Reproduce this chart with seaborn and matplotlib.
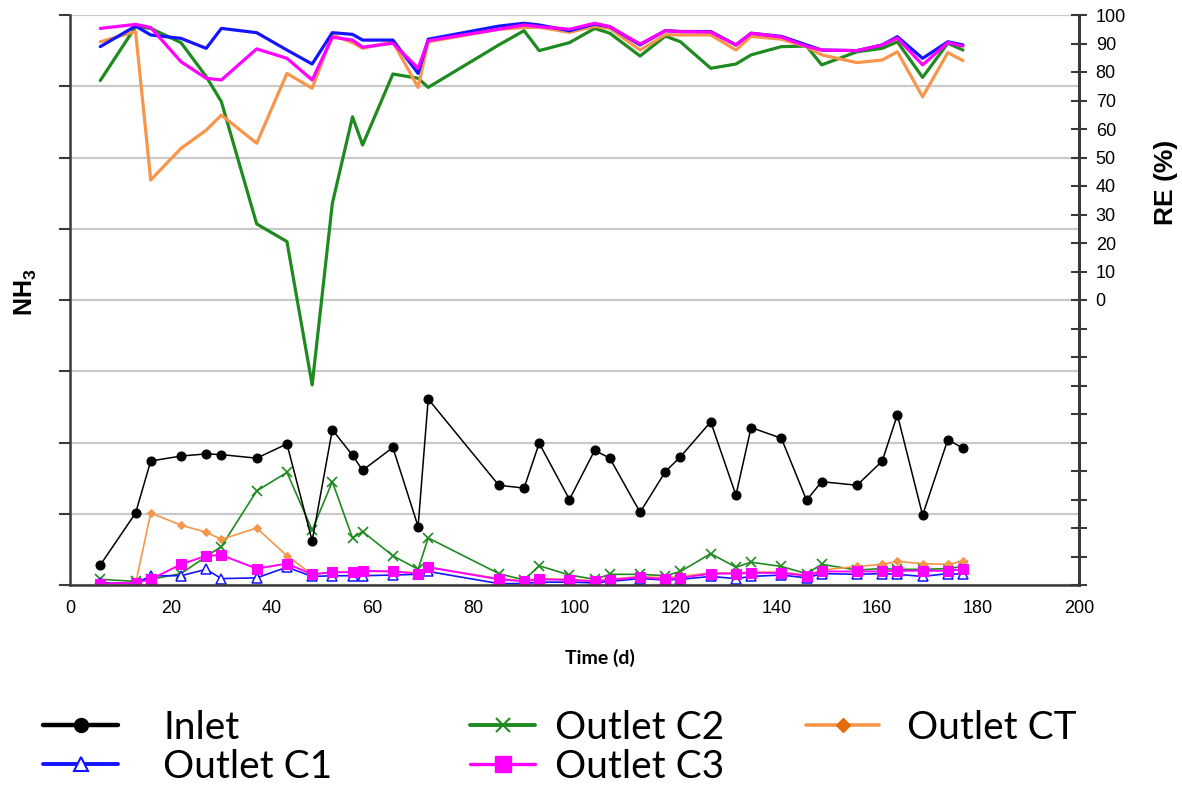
import matplotlib
matplotlib.use("Agg")
import matplotlib.pyplot as plt
from matplotlib.lines import Line2D
from matplotlib.ticker import FuncFormatter
import seaborn as sns
import pandas as pd

# ---------------- data ----------------
days = [6, 13, 16, 22, 27, 30, 37, 43, 48, 52, 56, 58, 64, 69, 71, 85, 90, 93,
        99, 104, 107, 113, 118, 121, 127, 132, 135, 141, 146, 149, 156, 161,
        164, 169, 174, 177]

# NH3 concentrations (left axis, unlabeled scale)
inlet = [0.28, 1.01, 1.74, 1.81, 1.84, 1.83, 1.78, 1.98, 0.62, 2.18, 1.82, 1.61,
         1.93, 0.82, 2.61, 1.40, 1.36, 1.99, 1.20, 1.89, 1.78, 1.02, 1.59, 1.80,
         2.29, 1.26, 2.21, 2.06, 1.19, 1.45, 1.40, 1.74, 2.39, 0.98, 2.04, 1.92]
outlet_c1 = [0.03, 0.02, 0.13, 0.13, 0.22, 0.09, 0.10, 0.25, 0.12, 0.13, 0.13, 0.13,
             0.14, 0.15, 0.19, 0.02, 0.02, 0.04, 0.04, 0.03, 0.05, 0.09, 0.07, 0.08,
             0.12, 0.09, 0.12, 0.14, 0.10, 0.16, 0.15, 0.16, 0.15, 0.12, 0.16, 0.15]
outlet_c2 = [0.08, 0.05, 0.08, 0.16, 0.40, 0.54, 1.32, 1.58, 0.77, 1.45, 0.66, 0.75,
             0.41, 0.22, 0.66, 0.16, 0.07, 0.27, 0.14, 0.08, 0.15, 0.15, 0.13, 0.19,
             0.44, 0.25, 0.32, 0.26, 0.16, 0.29, 0.21, 0.23, 0.22, 0.22, 0.23, 0.26]
outlet_c3 = [0.02, 0.03, 0.08, 0.29, 0.41, 0.42, 0.23, 0.30, 0.15, 0.18, 0.18, 0.20,
             0.19, 0.16, 0.25, 0.08, 0.05, 0.08, 0.07, 0.05, 0.07, 0.11, 0.08, 0.10,
             0.16, 0.16, 0.17, 0.17, 0.13, 0.19, 0.19, 0.19, 0.20, 0.20, 0.20, 0.22]
outlet_ct = [0.02, 0.02, 1.01, 0.84, 0.74, 0.64, 0.80, 0.41, 0.15, 0.18, 0.18, 0.19,
             0.19, 0.17, 0.25, 0.09, 0.06, 0.09, 0.08, 0.06, 0.08, 0.12, 0.10, 0.12,
             0.17, 0.17, 0.18, 0.18, 0.14, 0.21, 0.26, 0.29, 0.33, 0.30, 0.29, 0.33]

# Removal efficiencies RE (%) (right axis)
re_c1 = [88.9, 96.1, 93.0, 91.8, 88.3, 95.3, 93.8, 87.7, 82.8, 93.8, 93.2, 91.2,
         91.2, 79.5, 91.5, 96.1, 97.1, 96.5, 94.5, 96.8, 95.9, 89.5, 94.5, 94.2,
         94.2, 89.5, 93.6, 92.5, 89.5, 87.7, 87.5, 89.5, 92.4, 84.8, 90.6, 89.5]
re_c2 = [77.0, 95.9, 95.3, 90.3, 78.4, 69.6, 26.7, 20.5, -29.8, 33.9, 64.3, 54.4,
         79.3, 77.8, 74.6, 89.5, 94.5, 87.5, 90.3, 95.3, 93.6, 85.6, 92.6, 90.6,
         81.3, 82.8, 86.0, 88.9, 89.1, 82.5, 87.1, 88.3, 90.6, 78.1, 90.1, 87.7]
re_c3 = [95.3, 96.7, 95.6, 83.6, 77.8, 77.2, 88.1, 84.8, 77.2, 92.2, 91.2, 88.7,
         90.1, 81.3, 91.0, 95.0, 96.5, 95.9, 95.0, 97.1, 95.9, 89.8, 94.5, 94.2,
         94.0, 89.5, 93.6, 92.3, 89.0, 87.7, 87.5, 89.5, 91.9, 82.5, 90.3, 89.1]
re_ct = [90.6, 94.2, 42.1, 53.2, 59.6, 64.9, 55.0, 79.5, 74.3, 93.0, 90.3, 88.3,
         90.6, 74.6, 90.6, 95.0, 95.6, 95.7, 93.9, 96.0, 95.3, 87.7, 93.1, 93.0,
         93.0, 87.7, 92.5, 91.5, 88.9, 86.0, 83.3, 84.2, 87.1, 71.3, 86.8, 84.0]

x_ticks = [0, 20, 40, 60, 80, 100, 120, 140, 160, 180, 200]
legend_labels = ["Inlet", "Outlet C1", "Outlet C2", "Outlet C3", "Outlet CT"]

# ---------------- style ----------------
sns.set_theme(style="white")
plt.rcParams["font.family"] = ["Liberation Sans", "DejaVu Sans"]
plt.rcParams["mathtext.fontset"] = "custom"
plt.rcParams["mathtext.rm"] = "Liberation Sans"
plt.rcParams["mathtext.bf"] = "Liberation Sans:bold"
plt.rcParams["text.color"] = "black"
plt.rcParams["axes.labelcolor"] = "black"
plt.rcParams["xtick.color"] = "black"
plt.rcParams["ytick.color"] = "black"

BLACK = "#000000"
BLUE = "#1414ff"
GREEN = "#1f8a1f"
MAGENTA = "#ff00ff"
ORANGE = "#f7964a"
ORANGE_DARK = "#e46c0a"
DARK = "#3a3a3a"

df = pd.DataFrame({"day": days, "inlet": inlet, "c1": outlet_c1, "c2": outlet_c2,
                   "c3": outlet_c3, "ct": outlet_ct, "re_c1": re_c1, "re_c2": re_c2,
                   "re_c3": re_c3, "re_ct": re_ct})

W, H = 1182, 789
fig = plt.figure(figsize=(W / 100, H / 100), dpi=100)
L, R, T, B = 70, 1079, 15, 585
ax = fig.add_axes([L / W, 1 - B / H, (R - L) / W, (B - T) / H])

common = dict(estimator=None, sort=False, legend=False)
# concentrations (left axis)
sns.lineplot(data=df, x="day", y="c2", ax=ax, color=GREEN, linewidth=1.2,
             marker="x", markersize=7, markeredgewidth=1.2, markeredgecolor=GREEN, **common)
sns.lineplot(data=df, x="day", y="ct", ax=ax, color=ORANGE, linewidth=1.2,
             marker="D", markersize=4.5, markeredgecolor=ORANGE, markerfacecolor=ORANGE, **common)
sns.lineplot(data=df, x="day", y="c1", ax=ax, color=BLUE, linewidth=1.2,
             marker="^", markersize=7, markerfacecolor="white", markeredgecolor=BLUE,
             markeredgewidth=1.1, **common)
sns.lineplot(data=df, x="day", y="c3", ax=ax, color=MAGENTA, linewidth=1.4,
             marker="s", markersize=7.5, markerfacecolor=MAGENTA, markeredgecolor=MAGENTA, **common)
sns.lineplot(data=df, x="day", y="inlet", ax=ax, color=BLACK, linewidth=1.1,
             marker="o", markersize=6.5, markerfacecolor=BLACK, markeredgecolor=BLACK, **common)

ax.set_xlim(0, 200)
ax.set_ylim(0, 8)
ax.set_xticks(x_ticks)
ax.set_yticks(range(0, 9))
ax.yaxis.grid(True, color="#c9c9c9", linewidth=1.6)
ax.xaxis.grid(False)
ax.set_axisbelow(True)
ax.set_xlabel("")
ax.set_ylabel("")
ax.tick_params(axis="y", direction="out", length=8, width=1.5, color=DARK, labelleft=False)
ax.tick_params(axis="x", direction="out", length=5, width=1.5, color=DARK,
               labelsize=13, labelcolor="black", pad=6)
for s in ["top", "right"]:
    ax.spines[s].set_visible(False)
for s in ["left", "bottom"]:
    ax.spines[s].set_color(DARK)
    ax.spines[s].set_linewidth(1.8)

# removal efficiencies (right axis)
ax2 = ax.twinx()
sns.lineplot(data=df, x="day", y="re_c2", ax=ax2, color=GREEN, linewidth=2.3, **common)
sns.lineplot(data=df, x="day", y="re_ct", ax=ax2, color=ORANGE, linewidth=2.3, **common)
sns.lineplot(data=df, x="day", y="re_c1", ax=ax2, color=BLUE, linewidth=2.3, **common)
sns.lineplot(data=df, x="day", y="re_c3", ax=ax2, color=MAGENTA, linewidth=2.3, **common)
ax2.set_ylim(-100, 100)
ax2.set_xlim(0, 200)
ax2.set_yticks(range(-100, 101, 10))
ax2.yaxis.set_major_formatter(FuncFormatter(lambda v, p: f"{int(round(v))}" if v >= 0 else ""))
ax2.tick_params(axis="y", direction="inout", length=12, width=1.5, color=DARK,
                labelsize=13, labelcolor="black", pad=6)
ax2.set_ylabel("")
ax2.set_xlabel("")
ax2.grid(False)
for s in ["top", "left", "bottom"]:
    ax2.spines[s].set_visible(False)
ax2.spines["right"].set_color(DARK)
ax2.spines["right"].set_linewidth(2.2)

# axis titles
fig.text(26 / W, 1 - 292 / H, r"NH$_\mathbf{3}$", rotation=90, ha="center", va="center",
         fontsize=18, fontweight="bold", color="black")
fig.text(1166 / W, 1 - 182 / H, "RE (%)", rotation=90, ha="center", va="center",
         fontsize=19, fontweight="bold", color="black")
fig.text(600 / W, 1 - 658 / H, "Time (d)", ha="center", va="center",
         fontsize=14, fontweight="bold", family=["Lato", "DejaVu Sans"], color="black")

# legend (placed entry by entry)
handles = [
    Line2D([], [], color=BLACK, linewidth=3.2, marker="o", markersize=10, markerfacecolor=BLACK),
    Line2D([], [], color=BLUE, linewidth=2.8, marker="^", markersize=10,
           markerfacecolor="white", markeredgecolor=BLUE, markeredgewidth=1.5),
    Line2D([], [], color=GREEN, linewidth=2.8, marker="x", markersize=10, markeredgewidth=1.5),
    Line2D([], [], color=MAGENTA, linewidth=2.4, marker="s", markersize=11),
    Line2D([], [], color=ORANGE, linewidth=2.6, marker="D", markersize=7,
           markerfacecolor=ORANGE_DARK, markeredgecolor=ORANGE_DARK),
]
FS = 28
positions = [  # (handle start x px, row center y px, handle length px, gap px)
    (43, 728, 75, 45),
    (43, 767, 75, 45),
    (470, 728, 65, 20),
    (470, 767, 65, 20),
    (806, 728, 73, 28),
]
fs_px = FS * 100 / 72
for h, lab, (hx, hy, hl, gap) in zip(handles, legend_labels, positions):
    leg = fig.legend([h], [lab], loc="center left", bbox_to_anchor=(hx / W, 1 - hy / H),
                     frameon=False, borderpad=0, borderaxespad=0,
                     handlelength=hl / fs_px, handletextpad=gap / fs_px,
                     prop={"family": ["Lato", "DejaVu Sans"], "size": FS})
    for t in leg.get_texts():
        t.set_color("black")

fig.savefig("out.png", dpi=100)
